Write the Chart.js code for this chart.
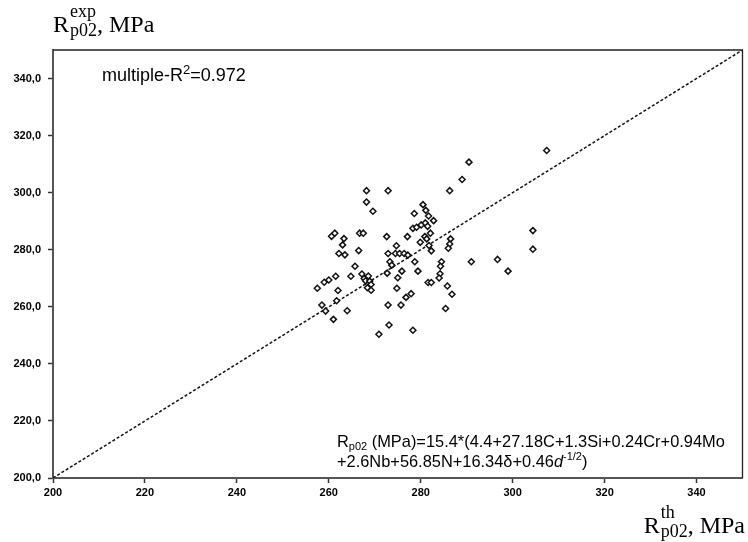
<!DOCTYPE html>
<html>
<head>
<meta charset="utf-8">
<script src="https://cdn.jsdelivr.net/npm/chart.js"></script>
<style>
  html, body { margin: 0; padding: 0; background: #fff; }
</style>
</head>
<body>
<canvas id="chart" width="748" height="542"></canvas>
<script>
// theoretical Rp02 (x) vs experimental Rp02 (y), MPa
const thValues = [
  268.2, 272.9, 268.2, 269.6, 286.3, 289.0, 290.5, 307.4, 280.5, 278.6,
  281.1, 281.7, 282.8, 278.3, 279.1, 280.1, 281.0, 281.5, 260.6, 261.3,
  263.3, 263.0, 266.7, 267.5, 272.6, 277.1, 280.9, 281.3, 282.1, 279.9,
  281.8, 282.3, 286.5, 286.3, 286.0, 304.4, 304.4, 262.2, 263.5, 266.5,
  274.7, 272.9, 274.5, 275.4, 276.4, 277.2, 265.7, 273.3, 273.7, 278.7,
  284.5, 284.3, 284.2, 284.0, 291.0, 296.7, 299.0, 272.7, 275.9, 279.4,
  281.6, 282.3, 285.8, 286.8, 285.4, 264.8, 267.2, 267.7, 268.6, 268.0,
  268.9, 269.2, 268.4, 269.2, 261.5, 260.0, 259.0, 257.5, 262.0, 261.7,
  258.5, 259.3, 264.0, 261.0, 275.0, 274.8, 277.9, 276.8, 272.9, 275.7,
  273.1, 270.9, 278.3
];
const expValues = [
  300.7, 300.7, 296.7, 293.5, 300.7, 304.6, 310.7, 314.8, 295.8, 292.7,
  293.8, 291.8, 290.2, 287.5, 287.9, 288.7, 289.4, 288.2, 284.7, 285.8,
  283.9, 281.7, 285.8, 285.8, 284.6, 284.6, 284.6, 283.8, 285.8, 282.6,
  281.5, 279.6, 283.8, 282.0, 280.5, 286.7, 280.2, 278.7, 278.2, 279.7,
  281.4, 278.7, 278.7, 278.7, 278.7, 278.1, 274.2, 275.8, 274.6, 275.8,
  275.8, 274.2, 271.6, 270.1, 275.8, 276.6, 272.5, 271.8, 272.5, 272.5,
  268.5, 268.5, 267.3, 264.4, 259.4, 270.7, 271.5, 269.9, 270.8, 269.1,
  269.0, 267.8, 266.7, 265.8, 270.7, 269.4, 268.6, 266.5, 265.7, 262.1,
  260.6, 258.5, 258.6, 255.6, 270.2, 266.5, 264.6, 263.3, 260.6, 260.6,
  253.6, 250.4, 251.8
];
const lineX = [200, 350];
const lineY = [200, 350];
const xTicks = [200, 220, 240, 260, 280, 300, 320, 340];
const yTicks = [200, 220, 240, 260, 280, 300, 320, 340];

const points = thValues.map((x, i) => ({ x: x, y: expValues[i] }));
const linePts = lineX.map((x, i) => ({ x: x, y: lineY[i] }));

const SANS = "'Liberation Sans', Arial, sans-serif";
const SERIF = "'Liberation Serif', 'Times New Roman', serif";

// draws R with sub/superscript, returns end x
function drawSymbol(ctx, x, base, sup, sub, tail, measureOnly) {
  ctx.font = '24px ' + SERIF;
  const wR = ctx.measureText('R').width;
  ctx.font = '18px ' + SERIF;
  const wSup = ctx.measureText(sup).width;
  const wSub = ctx.measureText(sub).width;
  ctx.font = '24px ' + SERIF;
  const wTail = ctx.measureText(tail).width;
  const total = wR + Math.max(wSup, wSub) + 1 + wTail;
  if (measureOnly) return total;
  ctx.fillText('R', x, base);
  ctx.font = '18px ' + SERIF;
  ctx.fillText(sup, x + wR + 1, base - 15);
  ctx.fillText(sub, x + wR + 1, base + 4);
  ctx.font = '24px ' + SERIF;
  ctx.fillText(tail, x + wR + Math.max(wSup, wSub) + 1, base);
  return x + total;
}

const decor = {
  id: 'decor',
  afterDraw(chart) {
    const { ctx, chartArea: a } = chart;
    ctx.save();
    // top and right frame
    ctx.strokeStyle = '#222';
    ctx.lineWidth = 1.3;
    ctx.beginPath();
    ctx.moveTo(a.left, a.top);
    ctx.lineTo(a.right, a.top);
    ctx.lineTo(a.right, a.bottom);
    ctx.stroke();

    ctx.fillStyle = '#000';
    ctx.textAlign = 'left';
    ctx.textBaseline = 'alphabetic';

    // axis titles
    drawSymbol(ctx, 53, 32, 'exp', 'p02', ', MPa');
    const w = drawSymbol(ctx, 0, 0, 'th', 'p02', ', MPa', true);
    drawSymbol(ctx, 745 - w, 533, 'th', 'p02', ', MPa');

    // R^2 note
    ctx.font = '18px ' + SANS;
    let x = 102;
    ctx.fillText('multiple-R', x, 81);
    x += ctx.measureText('multiple-R').width;
    ctx.font = '13px ' + SANS;
    ctx.fillText('2', x, 74);
    x += ctx.measureText('2').width;
    ctx.font = '18px ' + SANS;
    ctx.fillText('=0.972', x, 81);

    // regression formula
    x = 337;
    ctx.font = '16.4px ' + SANS;
    ctx.fillText('R', x, 447);
    x += ctx.measureText('R').width;
    ctx.font = '11px ' + SANS;
    ctx.fillText('p02', x, 450);
    x += ctx.measureText('p02').width;
    ctx.font = '16.4px ' + SANS;
    ctx.fillText(' (MPa)=15.4*(4.4+27.18C+1.3Si+0.24Cr+0.94Mo', x, 447);

    x = 337;
    const l2 = '+2.6Nb+56.85N+16.34\u03b4+0.46';
    ctx.fillText(l2, x, 467);
    x += ctx.measureText(l2).width;
    ctx.font = 'italic 16.4px ' + SANS;
    ctx.fillText('d', x, 467);
    x += ctx.measureText('d').width;
    ctx.font = '11px ' + SANS;
    ctx.fillText('-1/2', x, 460);
    x += ctx.measureText('-1/2').width;
    ctx.font = '16.4px ' + SANS;
    ctx.fillText(')', x, 467);
    ctx.restore();
  }
};

new Chart(document.getElementById('chart'), {
  type: 'scatter',
  data: {
    datasets: [
      {
        label: 'data',
        data: points,
        pointStyle: 'rectRot',
        pointRadius: 3,
        borderWidth: 1.5,
        borderColor: '#111',
        backgroundColor: '#fff',
        order: 1
      },
      {
        type: 'line',
        label: 'y=x',
        data: linePts,
        borderColor: '#111',
        borderWidth: 1.5,
        borderDash: [3, 2],
        pointRadius: 0,
        fill: false,
        order: 2
      }
    ]
  },
  options: {
    responsive: false,
    animation: false,
    layout: { padding: { top: 50, right: 5, left: 0, bottom: 0 } },
    plugins: {
      legend: { display: false },
      tooltip: { enabled: false }
    },
    scales: {
      x: {
        type: 'linear',
        min: 200,
        max: 350,
        afterFit: (s) => { s.height = 64; },
        afterBuildTicks: (s) => { s.ticks = xTicks.map(v => ({ value: v })); },
        grid: { drawOnChartArea: false, drawTicks: true, tickLength: 5, tickColor: '#333', tickWidth: 1.5 },
        border: { display: true, color: '#555', width: 2 },
        ticks: {
          padding: 3,
          color: '#000',
          font: { family: SANS, size: 11, weight: 'bold' },
          callback: (v) => String(v)
        }
      },
      y: {
        type: 'linear',
        min: 200,
        max: 350,
        afterFit: (s) => { s.width = 53; },
        afterBuildTicks: (s) => { s.ticks = yTicks.map(v => ({ value: v })); },
        grid: { drawOnChartArea: false, drawTicks: true, tickLength: 5, tickColor: '#333', tickWidth: 1.5 },
        border: { display: true, color: '#555', width: 2 },
        ticks: {
          padding: 7,
          color: '#000',
          font: { family: SANS, size: 11, weight: 'bold' },
          callback: (v) => v.toFixed(1).replace('.', ',')
        }
      }
    }
  },
  plugins: [decor]
});
</script>
</body>
</html>
